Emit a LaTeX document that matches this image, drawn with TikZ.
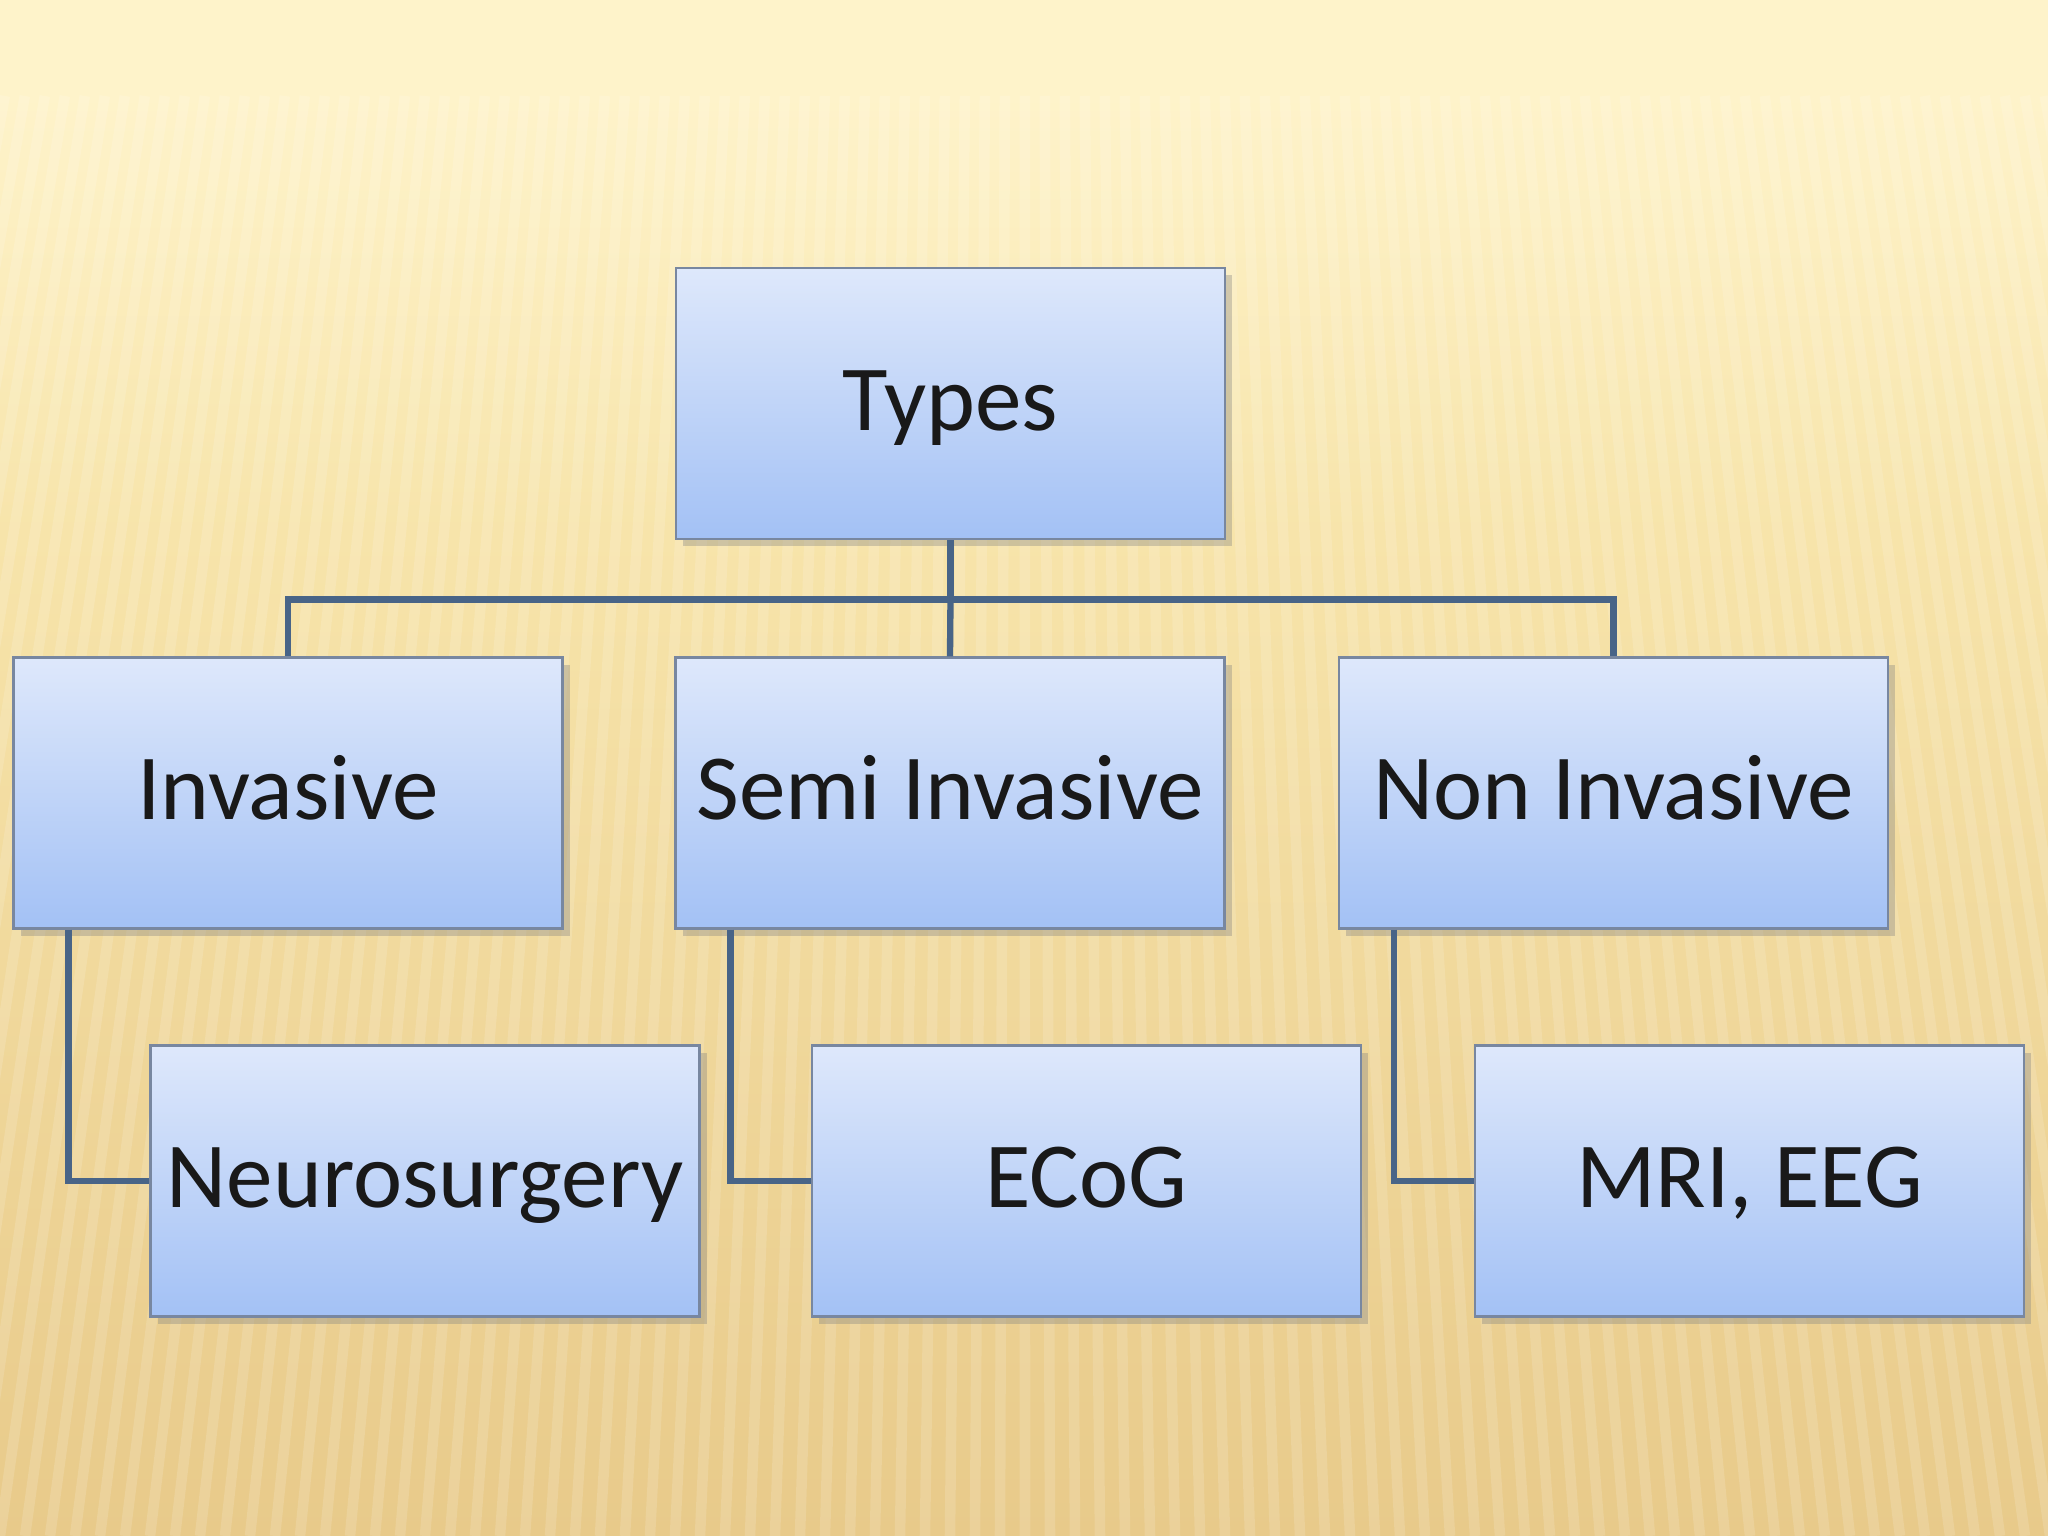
\documentclass[tikz,border=0pt]{standalone}
\usepackage{fontspec}
\setmainfont{Carlito}
\usetikzlibrary{shadows}

\definecolor{bgtop}{RGB}{254,243,202}
\definecolor{bgmid}{RGB}{247,228,170}
\definecolor{bgbot}{RGB}{232,202,138}
\definecolor{boxtop}{RGB}{222,232,251}
\definecolor{boxbot}{RGB}{163,193,245}
\definecolor{boxline}{RGB}{120,135,160}
\definecolor{linkcol}{RGB}{72,100,135}

\tikzset{
  typebox/.style={rectangle, draw=boxline, line width=0.6pt, top color=boxtop, bottom color=boxbot,
    minimum width=5.49cm, minimum height=2.71cm, inner sep=0pt, text=black!90,
    text height=0.7cm, text depth=0.16cm,
    font=\fontsize{26.5}{32}\selectfont,
    drop shadow={shadow xshift=2pt, shadow yshift=-2pt, opacity=0.35}},
  link/.style={draw=linkcol, line width=1.8pt}
}

\begin{document}
\begin{tikzpicture}
  \useasboundingbox (0,0) rectangle (20.48,15.36);
  % background
  \shade [top color=bgmid, bottom color=bgbot] (0,0) rectangle (20.48,10);
  \shade [top color=bgtop, bottom color=bgmid] (0,10) rectangle (20.48,14.4);
  \fill [bgtop] (0,14.4) rectangle (20.48,15.36);
  \foreach \x in {-6,-5.75,...,26.5}
    \draw [white, opacity=0.14, line width=3pt] (\x,0) -- ({10.24+(\x-10.24)*0.8},14.4);

  \node (types) [typebox] at (9.505,11.325) {Types};
  \node (invasive) [typebox] at (2.88,7.43) {Invasive};
  \node (semi) [typebox] at (9.50,7.43) {Semi Invasive};
  \node (noninv) [typebox] at (16.135,7.43) {Non Invasive};
  \node (neuro) [typebox] at (4.25,3.55) {Neurosurgery};
  \node (ecog) [typebox] at (10.865,3.55) {ECoG};
  \node (mri) [typebox] at (17.495,3.55) {MRI, EEG};

  \coordinate (hub) at (types.south |- 0,9.365);
  \draw [link] (types.south) -- (hub);
  \draw [link] (hub) -| (invasive.north);
  \draw [link] (hub) -- (semi.north);
  \draw [link] (hub) -| (noninv.north);
  \draw [link] ([xshift=0.56cm]invasive.south west) |- (neuro.west);
  \draw [link] ([xshift=0.56cm]semi.south west) |- (ecog.west);
  \draw [link] ([xshift=0.56cm]noninv.south west) |- (mri.west);
\end{tikzpicture}
\end{document}
